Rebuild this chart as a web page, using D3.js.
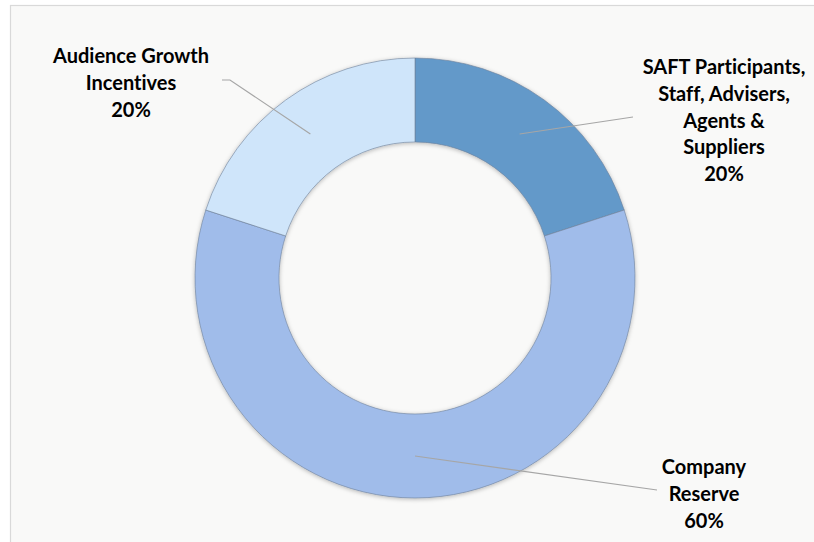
<!DOCTYPE html>
<html><head><meta charset="utf-8">
<script src="https://cdn.jsdelivr.net/npm/d3@7"></script>
<style>
html,body{margin:0;padding:0;background:#ffffff;}
svg{display:block;}
text{font-variant-ligatures:none;font-feature-settings:"liga" 0,"clig" 0;}
</style></head>
<body>
<script>
// ---- data ----
const categories = ["SAFT Participants, Staff, Advisers, Agents & Suppliers", "Company Reserve", "Audience Growth Incentives"];
const values = [20, 60, 20];
const labelLines = [
  ["SAFT Participants,", "Staff, Advisers,", "Agents &", "Suppliers", "20%"],
  ["Company", "Reserve", "60%"],
  ["Audience Growth", "Incentives", "20%"]
];
const colors = ["#6399c9", "#a0bcea", "#cfe5fa"];

// ---- layout ----
const W = 814, H = 542;
const cx = 415, cy = 278, rOuter = 220, rInner = 136;
const labelAnchor = [ {x: 724, y: 66}, {x: 704, y: 466}, {x: 131, y: 55} ];
const leaderEnd = [ [{x: 633, y: 117}], [{x: 657, y: 490}], [{x: 230, y: 80}, {x: 222, y: 80}] ];
const lineH = 26.8;

const svg = d3.select("body").append("svg").attr("width", W).attr("height", H);
const defs = svg.append("defs");
const f = defs.append("filter").attr("id", "sh").attr("x", "-20%").attr("y", "-20%").attr("width", "140%").attr("height", "140%");
f.append("feDropShadow").attr("dx", 0).attr("dy", 1).attr("stdDeviation", 2).attr("flood-color", "#000").attr("flood-opacity", 0.28);

svg.append("rect").attr("x", 10.5).attr("y", 5.5).attr("width", W).attr("height", H)
  .attr("fill", "#f9f9f8").attr("stroke", "#d9d9d9").attr("stroke-width", 1.2);

const pie = d3.pie().sort(null).value(d => d)(values);
const arc = d3.arc().innerRadius(rInner).outerRadius(rOuter);

const g = svg.append("g").attr("transform", `translate(${cx},${cy})`);
g.append("g").attr("filter", "url(#sh)")
  .selectAll("path").data(pie).join("path")
  .attr("d", arc)
  .attr("fill", (d, i) => colors[i])
  .attr("stroke", "#6d7f99").attr("stroke-width", 0.6);

// leader lines
pie.forEach((d, i) => {
  const c = arc.centroid(d);
  const pts = [[cx + c[0], cy + c[1]]].concat(leaderEnd[i].map(p => [p.x, p.y]));
  svg.append("path").attr("d", d3.line()(pts))
    .attr("fill", "none").attr("stroke", "#a6a6a6").attr("stroke-width", 1.2);
});

// labels
labelLines.forEach((lines, i) => {
  const t = svg.append("text")
    .attr("text-anchor", "middle")
    .attr("font-family", "Lato, 'Open Sans', sans-serif")
    .attr("font-weight", "bold").attr("font-size", 20).attr("fill", "#000");
  lines.forEach((s, k) => {
    t.append("tspan").attr("x", labelAnchor[i].x).attr("y", labelAnchor[i].y + k * lineH)
      .attr("dominant-baseline", "central").text(s);
  });
});
</script>
</body></html>
